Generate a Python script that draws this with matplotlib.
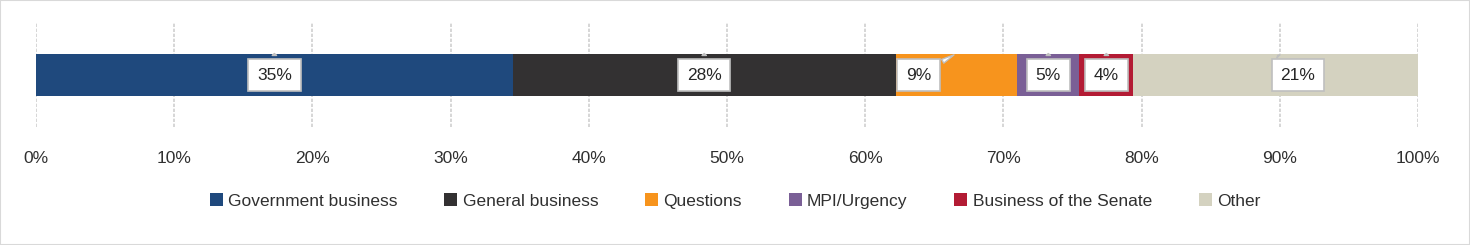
import matplotlib
matplotlib.use('Agg')
import matplotlib.pyplot as plt
from matplotlib.patches import Rectangle

plt.rcParams['font.family'] = ['Liberation Sans Narrow', 'Liberation Sans', 'DejaVu Sans']

categories = ['Government business', 'General business', 'Questions',
              'MPI/Urgency', 'Business of the Senate', 'Other']
shares = [34.5, 27.7, 8.8, 4.5, 3.9, 20.6]
labels = ['35%', '28%', '9%', '5%', '4%', '21%']
colors = ['#1f497d', '#333132', '#f7941d', '#7a5f96', '#b31b34', '#d4d2c0']
# horizontal nudge of each callout box (percentage points)
label_shift = [0, 0, -2.75, 0, 0, 1.6]

fig = plt.figure(figsize=(14.7, 2.45), dpi=100)
ax = fig.add_axes([36 / 1470, 1 - 127 / 245, 1382 / 1470, 104 / 245])

bar_h = 0.413
left = 0
for cat, val, col, lab, sh in zip(categories, shares, colors, labels, label_shift):
    ax.barh(0, val, left=left, height=bar_h, color=col, label=cat, zorder=2)
    cx = left + val / 2
    ax.annotate(lab, xy=(cx, bar_h / 2), xytext=(cx + sh, 0),
                ha='center', va='center', fontsize=12.5, color='#262626',
                bbox=dict(boxstyle='square,pad=0.5', fc='white', ec='#bfbfbf', lw=1.2),
                arrowprops=dict(arrowstyle='wedge,tail_width=0.25,shrink_factor=0.5',
                                fc='white', ec='#bfbfbf', lw=1),
                zorder=4)
    left += val

ax.set_xlim(0, 100)
ax.set_ylim(-0.5, 0.5)
ax.set_yticks([])
ax.set_xticks(range(0, 101, 10))
ax.set_xticklabels([f'{t}%' for t in range(0, 101, 10)])
ax.tick_params(axis='x', length=0, pad=17, labelsize=12.5, labelcolor='#303030')
ax.grid(axis='x', color='#d0d0d0', linestyle=(0, (2, 1)), linewidth=1.2, zorder=0)
ax.set_axisbelow(True)
for s in ax.spines.values():
    s.set_visible(False)

fig.legend(loc='center', bbox_to_anchor=(0.5, 1 - 201 / 245), ncol=6, frameon=False,
           fontsize=12.5, handlelength=0.75, handleheight=0.75, handletextpad=0.3,
           columnspacing=2.7, labelcolor='#303030')

fig.patches.append(Rectangle((0, 0), 1, 1, transform=fig.transFigure, fill=False,
                             edgecolor='#d9d9d9', linewidth=1.5))

fig.savefig('out.png', dpi=100)
